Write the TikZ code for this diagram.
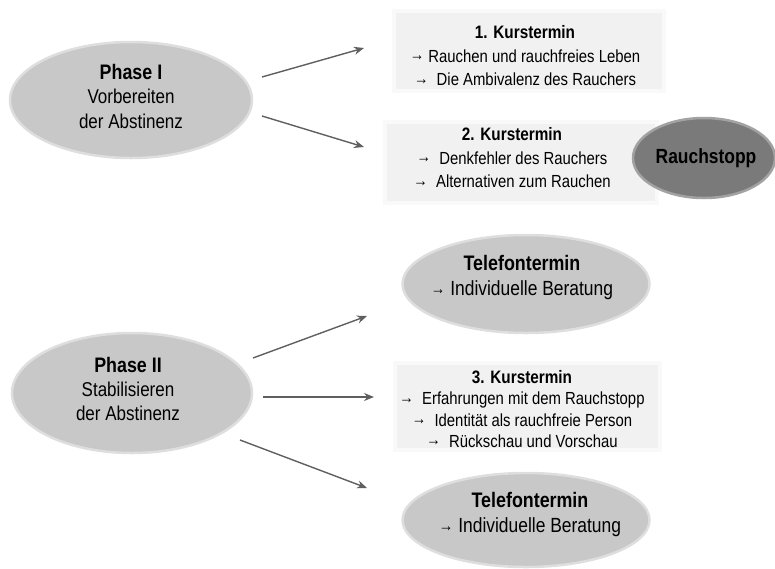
\documentclass[tikz,border=0pt]{standalone}
\usepackage{fontspec}
\setmainfont[FakeStretch=0.85]{Liberation Sans}
\usetikzlibrary{shapes.geometric,arrows.meta}
\definecolor{ellgray}{RGB}{200,200,200}
\definecolor{darkell}{RGB}{122,122,122}
\definecolor{boxgray}{RGB}{241,241,241}
\definecolor{arrgray}{RGB}{95,95,95}
\newcommand{\ra}{{\fontsize{17}{17}\selectfont\raisebox{1.5pt}{→}}}
\begin{document}
\begin{tikzpicture}[x=1pt,y=-1pt,
  ell/.style={ellipse, fill=ellgray, draw=ellgray!60!white, line width=2.5pt, inner sep=0pt},
  dell/.style={ellipse, fill=darkell, draw=darkell!70!white, line width=2.5pt, inner sep=0pt},
  box/.style={rectangle, fill=boxgray, draw=boxgray!40!white, line width=4pt, inner sep=0pt},
  txt/.style={align=center, inner sep=0pt, text=black},
  boxtxt/.style={txt, font=\fontsize{17.5}{23.5}\selectfont},
  conn/.style={draw=arrgray, line width=1.4pt, -{Stealth[length=10pt,width=8pt]}}
]
\useasboundingbox (0,0) rectangle (775,568);

% Phase I
\node[ell, minimum width=242pt, minimum height=116pt] (p1) at (131,100) {};
\node[txt, font=\fontsize{20}{24.5}\selectfont] (p1t) at (131,96)
  {\textbf{\fontsize{21}{24.5}\selectfont Phase I}\\Vorbereiten\\der Abstinenz};

% Kurstermin 1
\node[box, minimum width=270pt, minimum height=80pt] (k1) at (529,51) {};
\node[boxtxt] (k1t) at (525,56)
  {\textbf{\fontsize{18}{23.5}\selectfont 1. Kurstermin}\\\ra{} Rauchen und rauchfreies Leben\\\ra{}\ \ Die Ambivalenz des Rauchers};

% Kurstermin 2
\node[box, minimum width=272pt, minimum height=81pt] (k2) at (521,162) {};
\node[boxtxt] (k2t) at (512,158)
  {\textbf{\fontsize{18}{23.5}\selectfont 2. Kurstermin}\\\ra{}\ \ Denkfehler des Rauchers\\\ra{}\ \ Alternativen zum Rauchen};

% Rauchstopp
\node[dell, minimum width=142pt, minimum height=80pt] (rs) at (704,158) {};
\node[txt, font=\bfseries\fontsize{20.5}{24}\selectfont] (rst) at (706,158) {Rauchstopp};

% Phase II
\node[ell, minimum width=240pt, minimum height=120pt] (p2) at (132,393) {};
\node[txt, font=\fontsize{20}{24}\selectfont] (p2t) at (128,389)
  {\textbf{\fontsize{21}{24}\selectfont Phase II}\\Stabilisieren\\der Abstinenz};

% Telefontermin 1
\node[ell, minimum width=247pt, minimum height=98pt] (t1) at (526,284) {};
\node[txt, font=\fontsize{20.5}{25}\selectfont] (t1t) at (522,278)
  {\textbf{\fontsize{21}{25}\selectfont Telefontermin}\\\ra{} Individuelle Beratung};

% Kurstermin 3
\node[box, minimum width=265pt, minimum height=87pt] (k3) at (527,406) {};
\node[txt, font=\fontsize{17.5}{21.3}\selectfont] (k3t) at (522,409)
  {\textbf{\fontsize{18}{21.3}\selectfont 3. Kurstermin}\\\ra{}\ \ Erfahrungen mit dem Rauchstopp\\\ra{}\ \ Identität als rauchfreie Person\\\ra{}\ \ Rückschau und Vorschau};

% Telefontermin 2
\node[ell, minimum width=247pt, minimum height=94pt] (t2) at (526,520) {};
\node[txt, font=\fontsize{20.5}{25}\selectfont] (t2t) at (530,515)
  {\textbf{\fontsize{21}{25}\selectfont Telefontermin}\\\ra{} Individuelle Beratung};

% connector end points
\coordinate (a1s) at (262,77);  \coordinate (a1e) at (364,48);
\coordinate (a2s) at (262,116); \coordinate (a2e) at (364,147);
\coordinate (b1s) at (253,358); \coordinate (b1e) at (367,316);
\coordinate (b2s) at (263,397); \coordinate (b2e) at (374,397);
\coordinate (b3s) at (240,440); \coordinate (b3e) at (367,488);

\draw[conn] (a1s) -- (a1e);
\draw[conn] (a2s) -- (a2e);
\draw[conn] (b1s) -- (b1e);
\draw[conn] (b2s) -- (b2e);
\draw[conn] (b3s) -- (b3e);
\end{tikzpicture}
\end{document}
